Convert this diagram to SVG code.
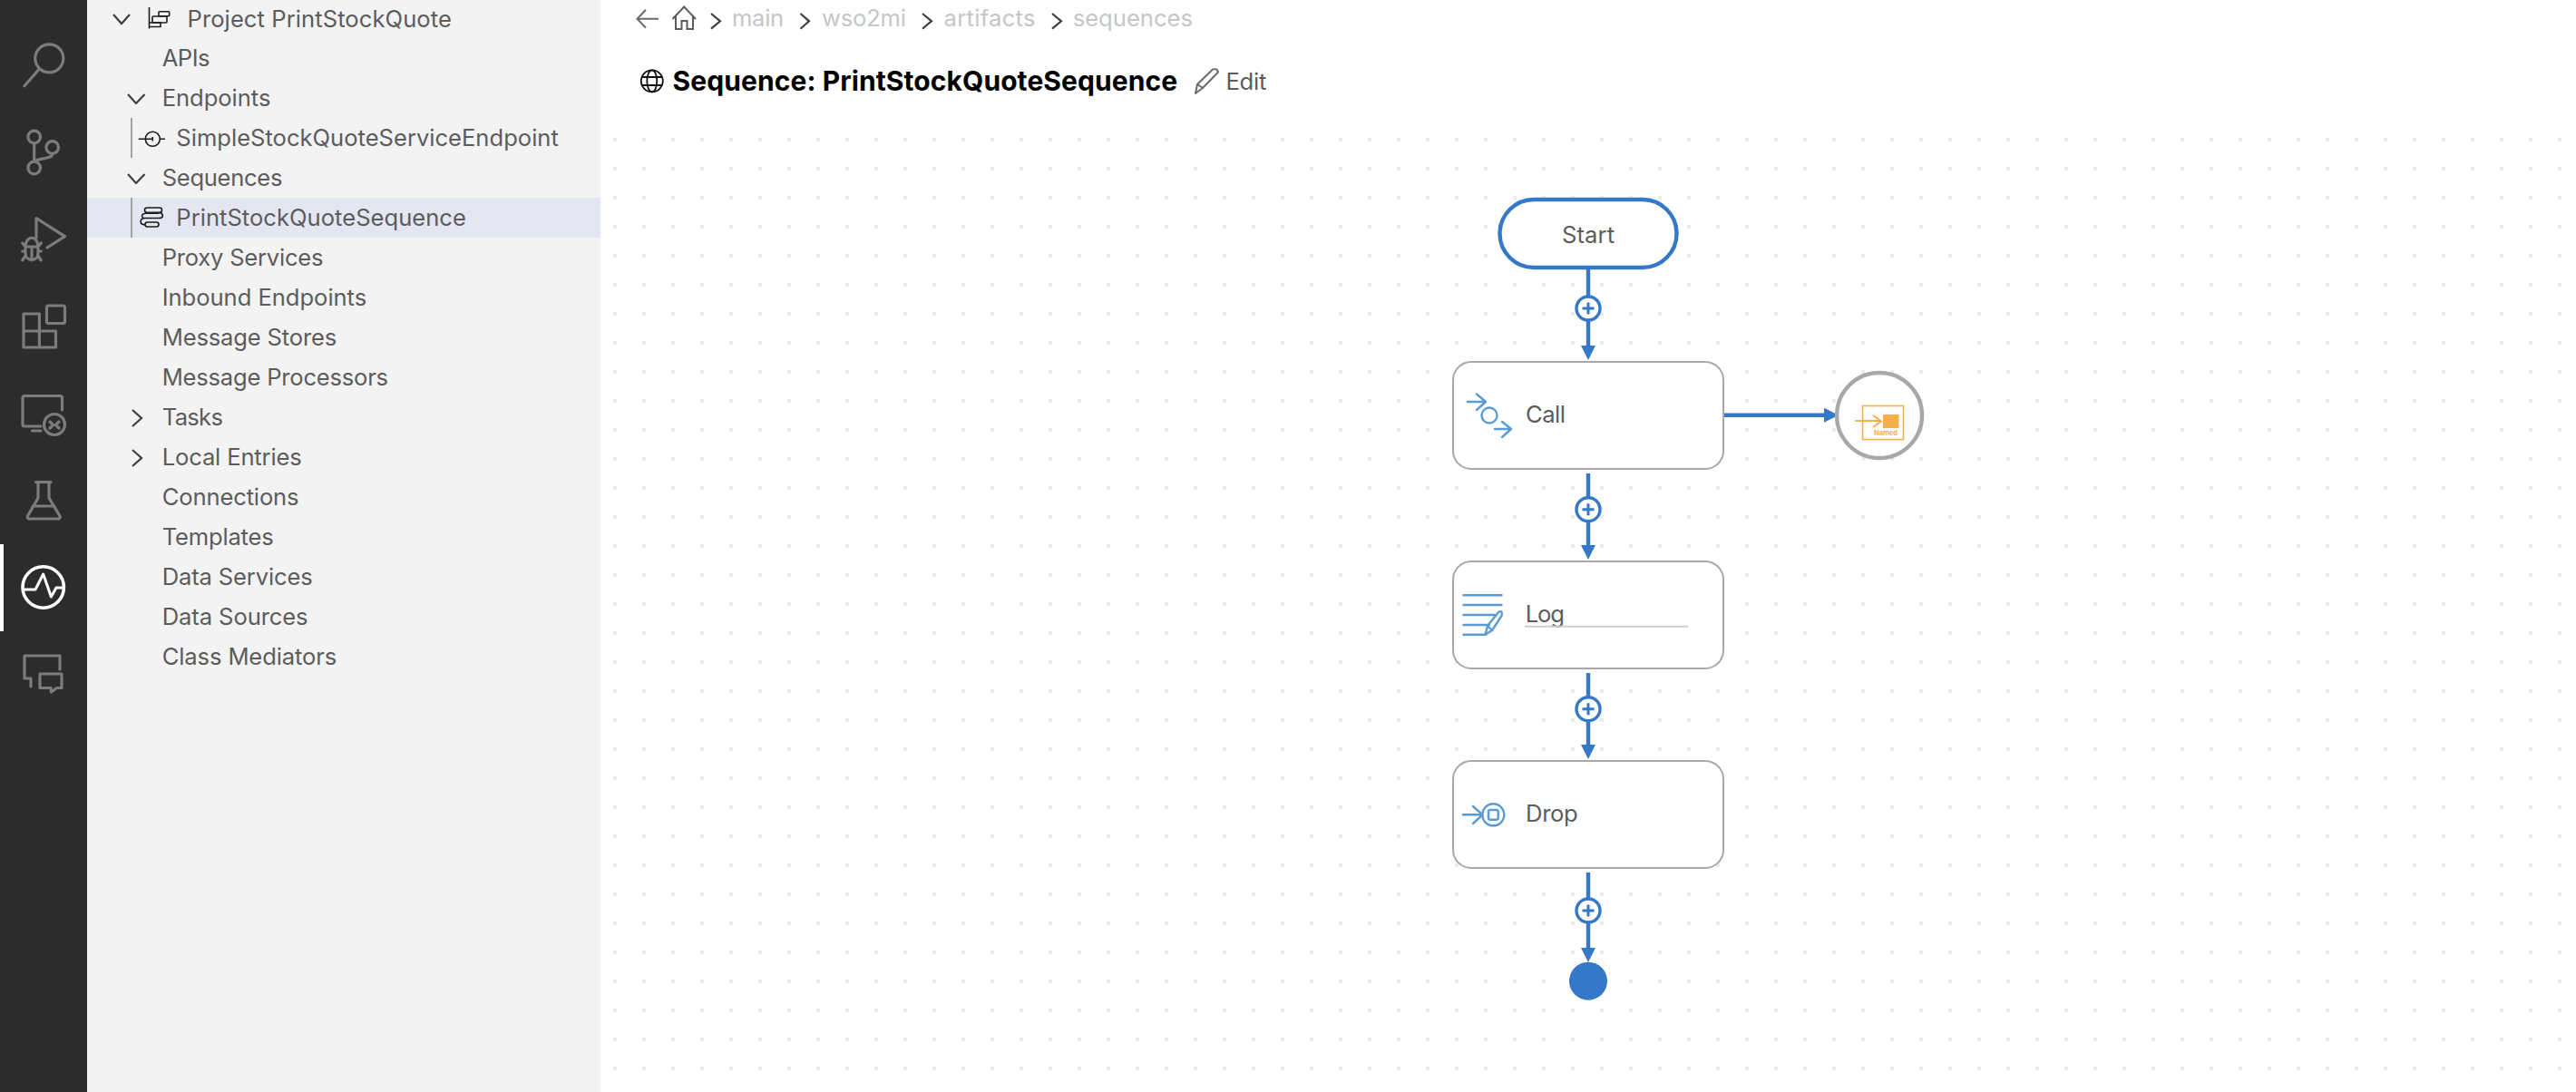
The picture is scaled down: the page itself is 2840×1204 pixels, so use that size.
<svg xmlns="http://www.w3.org/2000/svg" width="2840" height="1204" viewBox="0 0 2840 1204">
<style>
text{font-family:"Inter","Liberation Sans",sans-serif;font-size:25.6px;fill:#5c5c5c}
.bc{fill:#c6c6c6}
.ab{fill:none;stroke:#7c7c7c;stroke-width:3.2;stroke-linecap:round;stroke-linejoin:round}
.chev{fill:none;stroke:#3f3f3f;stroke-width:2.2}
.node{fill:#fff;stroke:#a8a8a8;stroke-width:2}
.ico{fill:none;stroke:#5a9bd5;stroke-width:2.4;stroke-linecap:round;stroke-linejoin:round}
.conn{stroke:#3578c7;stroke-width:4.4;fill:none}
.add{fill:#fff;stroke:#3578c7;stroke-width:3.4}
.plus{stroke:#3578c7;stroke-width:3}
.tk{fill:none;stroke:#1c1c1c;stroke-width:1.6}
</style>
<defs>
<pattern id="dots" x="676" y="152" width="32" height="32" patternUnits="userSpaceOnUse"><rect width="4" height="4" fill="#e8edf1"/></pattern>
<marker id="arrow" markerUnits="userSpaceOnUse" markerWidth="16" markerHeight="16" refX="10" refY="8" orient="auto"><path d="M0 0L16 8L0 16Z" fill="#3578c7"/></marker>
</defs>
<rect width="2840" height="1204" fill="#fff"/>
<rect x="676" y="152" width="2150" height="1030" fill="url(#dots)"/>

<g id="activity-bar">
<rect width="96" height="1204" fill="#2c2c2c"/>
<g class="ab">
<circle cx="54.3" cy="64.3" r="15.5"/><path d="M42.7 76.7L27 94.7"/>
<circle cx="37.7" cy="151" r="6.8"/><circle cx="57.7" cy="162.5" r="6.8"/><circle cx="37.7" cy="185" r="6.8"/><path d="M37.7 158V178M57.7 169.5C57.7 176 46 173 37.7 178"/>
<path d="M40 262V240.500L71.500 260.700L52 273"/>
<path d="M28 272C28 259 42 259 42 272V279C42 289 28 289 28 279ZM28 272H42M35 272V287M24.700 268L28 272M45.300 268L42 272M24.700 277H28M45.300 277H42M24.700 287L28 282M45.300 287L42 282"/>
<rect x="51.5" y="337" width="20" height="19.500" rx="2"/><path d="M43.400 346H26v37h35.500V365H26M43.400 346V383"/>
<path d="M45 470H27a2 2 0 0 1-2-2V438.500a2 2 0 0 1 2-2H66.500a2 2 0 0 1 2 2V452M35.500 475H45"/><circle cx="60" cy="468" r="11.500"/><path d="M55 465l3.500 3.500-3.500 3.500M65 465l-3.500 3.500 3.500 3.500"/>
<path d="M39.500 531.500H56M42 532V549L30.500 569a2 2 0 0 0 2 3H64a2 2 0 0 0 2-3L54 549V532M36 558H60"/>
<path d="M66 738V723H27V748H34V757"/><path d="M44 743H68V758.500H62.500L56.500 763L56 758.500H44Z"/>
</g>
<rect x="0" y="600" width="4" height="96" fill="#fff"/>
<circle cx="47.700" cy="647.500" r="22.700" fill="none" stroke="#fff" stroke-width="3.600"/>
<path d="M25 650H39L47.700 633L56.400 658L62 648H71" fill="none" stroke="#fff" stroke-width="3" stroke-linejoin="round"/>
</g>

<g id="explorer">
<rect x="96" width="566" height="1204" fill="#f3f3f3"/>
<rect x="96" y="218" width="566" height="44" fill="#e4e6f1"/>
<path d="M145 130V174M145 218V262" stroke="#a3a3a3" stroke-width="2" fill="none"/>
<g class="chev">
<path d="M125 16L134 26L143 16"/><path d="M141 104L150 114L159.500 104"/><path d="M141 192L150 202L159.500 192"/>
<path d="M146 452L156 461L146 470"/><path d="M146 496L156 505L146 514"/>
</g>
<g class="tk">
<path d="M164.500 8V31.500"/><rect x="175" y="12.700" width="11.700" height="5" rx="1"/><rect x="168" y="18" width="16" height="7" rx="1"/><path d="M165 25H177V29.500H165"/>
<circle cx="168.300" cy="153.300" r="8"/><path d="M152.700 153.300H168.300M176.300 153.300H182M168.300 151V155.500"/>
<rect x="159.500" y="229" width="19" height="5.300" rx="2.600"/><path d="M176 234.300C181 236 180 240.500 175.500 240.500H160C154 240.500 153 247.500 160 248M160 235.300H175.500"/><rect x="160" y="245" width="15" height="5" rx="2.500"/><path d="M160 235.300C156 236 155.500 239 158 240.500"/>
</g>
<text x="206.500" y="30" textLength="291.400">Project PrintStockQuote</text>
<text x="178.700" y="73.300" textLength="52.900">APIs</text>
<text x="178.700" y="117.300" textLength="119.700">Endpoints</text>
<text x="194.300" y="161.300" textLength="421.500">SimpleStockQuoteServiceEndpoint</text>
<text x="178.700" y="205.300" textLength="132.700">Sequences</text>
<text x="194.300" y="249.300" textLength="319.600">PrintStockQuoteSequence</text>
<text x="178.700" y="293.300" textLength="177.800">Proxy Services</text>
<text x="178.700" y="337.300" textLength="225.500">Inbound Endpoints</text>
<text x="178.700" y="381.300" textLength="192.500">Message Stores</text>
<text x="178.700" y="425.300" textLength="249.400">Message Processors</text>
<text x="178.700" y="469.300" textLength="67.200">Tasks</text>
<text x="178.700" y="513.300" textLength="154">Local Entries</text>
<text x="178.700" y="557.300" textLength="150.900">Connections</text>
<text x="178.700" y="601.300" textLength="123">Templates</text>
<text x="178.700" y="645.300" textLength="166">Data Services</text>
<text x="178.700" y="689.300" textLength="160.900">Data Sources</text>
<text x="178.700" y="733.300" textLength="192.500">Class Mediators</text>
</g>

<g id="breadcrumb">
<path d="M726 20.700H703M712 10.700L702.500 20.700L712 30.700" fill="none" stroke="#6a6a6a" stroke-width="2"/>
<path d="M741.500 21L754.200 7.500L767 21M745 18V32H751.500V23H757.500V32H764V18" fill="none" stroke="#5c5c5c" stroke-width="2"/>
<g class="chev"><path d="M784 15L794 23.300L784 31.700"/><path d="M882.500 15L892 23.300L882.500 31.700"/><path d="M1017 15L1027 23.300L1017 31.700"/><path d="M1160 15L1170 23.300L1160 31.700"/></g>
<text class="bc" x="807" y="29.300" textLength="57.200">main</text>
<text class="bc" x="906" y="29.300" textLength="93">wso2mi</text>
<text class="bc" x="1040.500" y="29.300" textLength="101">artifacts</text>
<text class="bc" x="1182.700" y="29.300" textLength="132.300">sequences</text>
</g>

<g id="title">
<g fill="none" stroke="#111" stroke-width="1.800"><circle cx="718.800" cy="89.300" r="12"/><ellipse cx="718.800" cy="89.300" rx="5.500" ry="12"/><path d="M707.500 85H730M707.500 94H730"/></g>
<text x="741.600" y="100" textLength="556.500" style="font-weight:700;font-size:30px;fill:#000">Sequence: PrintStockQuoteSequence</text>
<path d="M1318 103L1320 93L1337 76.500Q1342 75 1343 79.500L1326 97L1318 103ZM1320 93L1326 97" fill="none" stroke="#6a6a6a" stroke-width="2" stroke-linejoin="round"/>
<text x="1351.400" y="99.300" textLength="45">Edit</text>
</g>

<g id="connectors">
<path class="conn" d="M1751 297V391" marker-end="url(#arrow)"/>
<path class="conn" d="M1901 457.700H2021" marker-end="url(#arrow)"/>
<path class="conn" d="M1751 522V611" marker-end="url(#arrow)"/>
<path class="conn" d="M1751 742V831" marker-end="url(#arrow)"/>
<path class="conn" d="M1751 962V1055" marker-end="url(#arrow)"/>
<g id="add-1"><circle class="add" cx="1751" cy="340" r="13"/><path class="plus" d="M1744.500 340h13M1751 333.500v13"/></g>
<g id="add-2"><circle class="add" cx="1751" cy="561.700" r="13"/><path class="plus" d="M1744.500 561.700h13M1751 555.200v13"/></g>
<g id="add-3"><circle class="add" cx="1751" cy="781.700" r="13"/><path class="plus" d="M1744.500 781.700h13M1751 775.200v13"/></g>
<g id="add-4"><circle class="add" cx="1751" cy="1004" r="13"/><path class="plus" d="M1744.500 1004h13M1751 997.500v13"/></g>
</g>

<g id="node-start">
<rect x="1653.500" y="220" width="195" height="75" rx="37.500" fill="#fff" stroke="#3578c7" stroke-width="4.400"/>
<text x="1722" y="268" textLength="58">Start</text>
</g>
<g id="node-call">
<rect class="node" x="1602" y="399" width="298" height="118" rx="20"/>
<g class="ico"><path d="M1618 443H1638M1628 434.500L1638 443L1628 452"/><circle cx="1642" cy="458" r="8.500"/><path d="M1648 473H1666M1656 465L1666 473L1656 482"/></g>
<text x="1682" y="465.700" textLength="44">Call</text>
</g>
<g id="node-named">
<circle cx="2072" cy="458" r="47" fill="#fff" stroke="#a8a8a8" stroke-width="4.400"/>
<rect x="2053.500" y="447.500" width="45" height="37" fill="none" stroke="#f5b04a" stroke-width="1.600"/>
<path d="M2045 464H2073M2065 458L2074 464.500L2065 471" fill="none" stroke="#f5b04a" stroke-width="2"/>
<rect x="2076" y="457" width="17.500" height="15" fill="#f5b04a"/>
<text x="2079" y="480" text-anchor="middle" style="font-size:7.500px;font-weight:700;fill:#f5b04a">Named</text>
</g>
<g id="node-log">
<rect class="node" x="1602" y="619" width="298" height="118" rx="20"/>
<g class="ico"><path d="M1613.500 656.300H1655.500M1613.500 667H1655.500M1613.500 678H1648M1613.500 689H1642M1613.500 699.800H1637.500"/><path d="M1637.500 699.800L1640 690L1652 675Q1657 672 1655.500 679L1645 695ZM1640 690L1645 695" /></g>
<text x="1681.700" y="686" textLength="43.300">Log</text>
<path d="M1681 690.800H1861" stroke="#cfcfcf" stroke-width="2"/>
</g>
<g id="node-drop">
<rect class="node" x="1602" y="839" width="298" height="118" rx="20"/>
<g class="ico"><path d="M1613 898.300H1634M1624 889L1634.500 898.300L1624 908"/><circle cx="1646.300" cy="898.300" r="12"/><rect x="1641" y="893" width="10.700" height="10.700" rx="2"/></g>
<text x="1682" y="905.700" textLength="57.700">Drop</text>
</g>
<g id="node-end"><circle cx="1751" cy="1081.700" r="21" fill="#3578c7"/></g>
</svg>
